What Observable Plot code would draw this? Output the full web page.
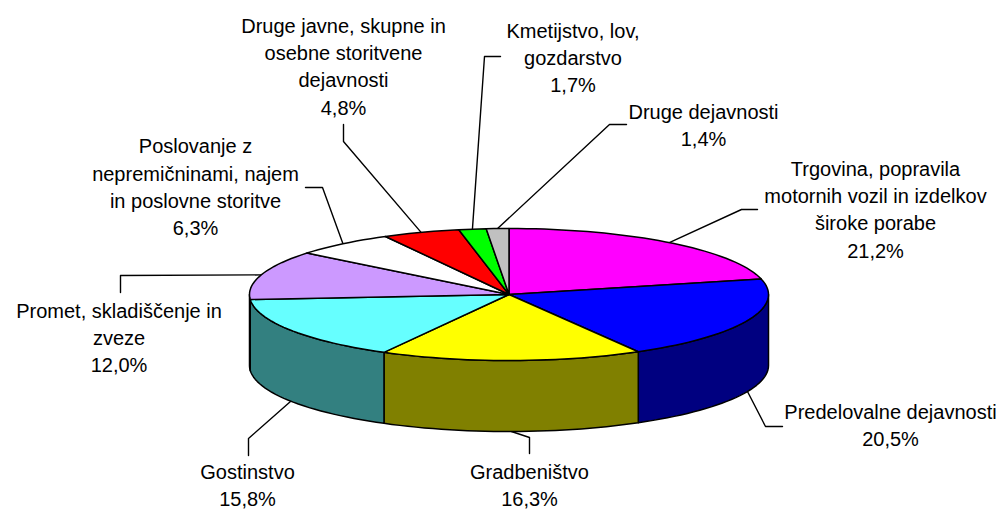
<!DOCTYPE html>
<html>
<head>
<meta charset="utf-8">
<script src="https://cdn.jsdelivr.net/npm/d3@7"></script>
<script src="https://cdn.jsdelivr.net/npm/@observablehq/plot@0.6"></script>
<style>html,body{margin:0;padding:0;background:#fff}svg{display:block}</style>
</head>
<body>
<div id="chart"></div>
<script>
// Data, clockwise from twelve o'clock
const names = [
  "Trgovina, popravila\nmotornih vozil in izdelkov\nširoke porabe",
  "Predelovalne dejavnosti",
  "Gradbeništvo",
  "Gostinstvo",
  "Promet, skladiščenje in\nzveze",
  "Poslovanje z\nnepremičninami, najem\nin poslovne storitve",
  "Druge javne, skupne in\nosebne storitvene\ndejavnosti",
  "Kmetijstvo, lov,\ngozdarstvo",
  "Druge dejavnosti"
];
const values = [21.2, 20.5, 16.3, 15.8, 12.0, 6.3, 4.8, 1.7, 1.4];
const topColors = ["#ff00ff", "#0000ff", "#ffff00", "#66ffff", "#cc99ff", "#ffffff", "#ff0000", "#00ff00", "#c0c0c0"];
const sideColors = ["#800080", "#000080", "#808000", "#338080", "#664c80", "#808080", "#800000", "#008000", "#606060"];

// Layout: label centres and leader elbows/ends
const labelX = [875, 890, 529, 247, 118.5, 195, 343, 572.5, 703];
const labelY = [207.5, 423, 483, 483, 336, 185, 64.5, 55.5, 123.5];
const elbowX = [741, 765, 529, 248, 120, 322, 343, 484, 609];
const elbowY = [209, 426, 437, 438, 275, 187, 141, 56, 124];
const endX = [757, 782, 529, 248, 120, 305, 343, 500, 626];
const endY = [209, 426, 453, 455, 292, 187, 124, 56, 124];

const cx = 508.5, cy = 294, rx = 259.5, ry = 66, depth = 71;
const rad = d => d * Math.PI / 180;
const rim = (deg, dy = 0) => ({x: cx + rx * Math.sin(rad(deg)), y: cy - ry * Math.cos(rad(deg)) + dy});
const arc = (a0, a1, dy = 0) => {
  const n = Math.max(2, Math.ceil((a1 - a0) / 2));
  return d3.range(n + 1).map(i => rim(a0 + (a1 - a0) * i / n, dy));
};

let cum = 0;
const slices = values.map((v, i) => {
  const a0 = cum * 3.6; cum += v; const a1 = cum * 3.6;
  return {i, a0, a1, mid: (a0 + a1) / 2};
});

const line = {x: "x", y: "y", stroke: "#000", strokeWidth: 1.5, strokeLinejoin: "round"};

const sides = slices.filter(s => s.a1 > 90 && s.a0 < 270).map(s => {
  const a0 = Math.max(s.a0, 90), a1 = Math.min(s.a1, 270);
  const pts = [...arc(a0, a1), ...arc(a0, a1, depth).reverse()];
  return Plot.line(pts, {...line, fill: sideColors[s.i], curve: "linear-closed"});
});
const tops = slices.map(s => Plot.line([{x: cx, y: cy}, ...arc(s.a0, s.a1)],
  {...line, fill: topColors[s.i], curve: "linear-closed"}));

const leaders = slices.map(s => {
  const front = s.mid > 90 && s.mid < 270;
  return Plot.line([rim(s.mid, front ? depth : 0), {x: elbowX[s.i], y: elbowY[s.i]}, {x: endX[s.i], y: endY[s.i]}],
    {x: "x", y: "y", stroke: "#000", strokeWidth: 1.4});
});

const labels = slices.map(s => ({
  x: labelX[s.i], y: labelY[s.i],
  text: names[s.i] + "\n" + values[s.i].toFixed(1).replace(".", ",") + "%"
}));

const chart = Plot.plot({
  width: 999, height: 509, margin: 0,
  style: {background: "#fff", fontFamily: "'Liberation Sans', Arial, sans-serif"},
  x: {domain: [0, 999], range: [0, 999], axis: null},
  y: {domain: [0, 509], range: [0, 509], axis: null},
  marks: [
    ...leaders,
    ...sides,
    ...tops,
    Plot.text(labels, {x: "x", y: "y", text: "text", textAnchor: "middle", lineAnchor: "middle",
      fontSize: 20, lineHeight: 1.36, fill: "#000"})
  ]
});
document.getElementById("chart").append(chart);
</script>
</body>
</html>
